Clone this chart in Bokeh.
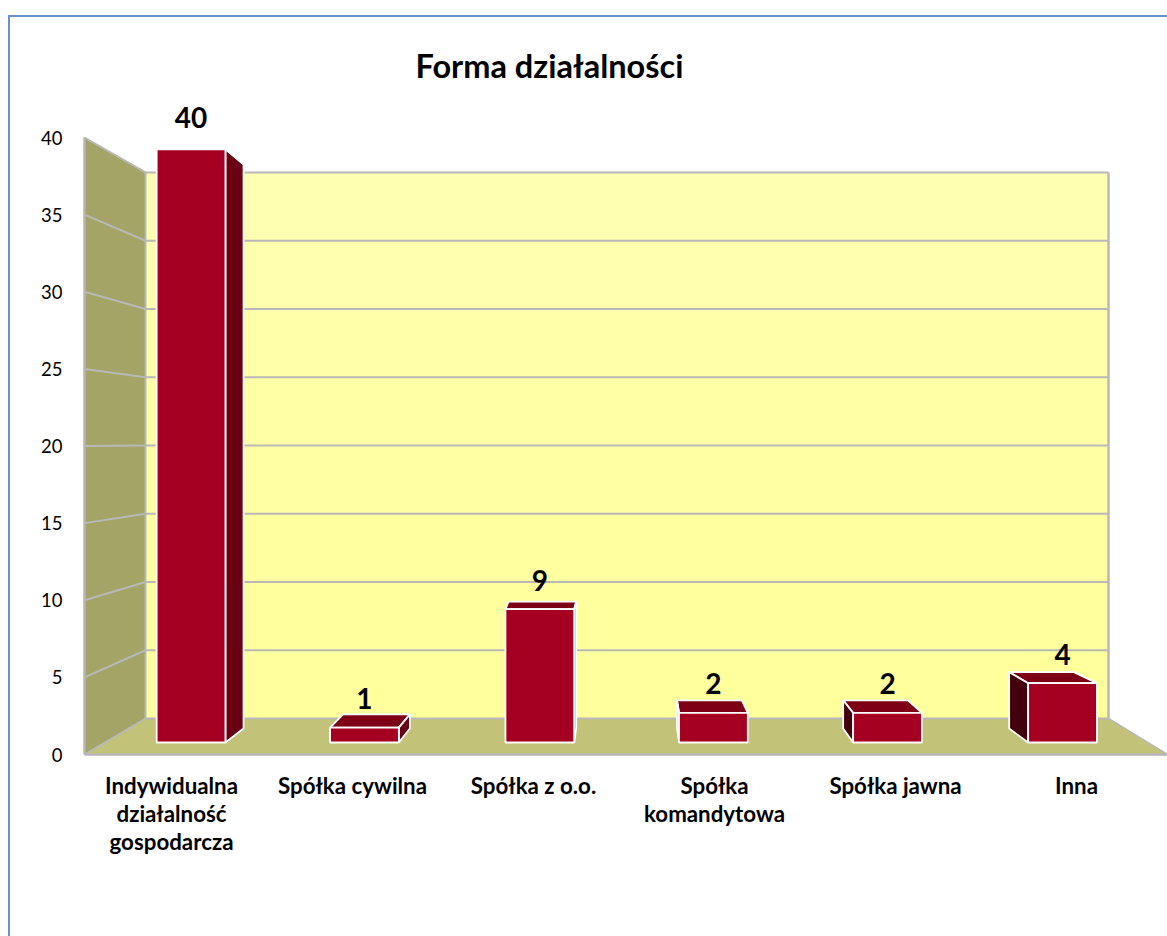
from bokeh.embed import file_html
from bokeh.resources import INLINE
from bokeh.plotting import figure
from bokeh.models import Range1d, FixedTicker, ColumnDataSource
from bokeh.core.properties import value

# ---- data ----
categories = ["Indywidualna\ndziałalność\ngospodarcza", "Spółka cywilna", "Spółka z o.o.",
              "Spółka\nkomandytowa", "Spółka jawna", "Inna"]
values = [40, 1, 9, 2, 2, 4]
y_ticks = [0, 5, 10, 15, 20, 25, 30, 35, 40]
title_text = "Forma działalności"

# ---- perspective geometry (units: category index / axis value) ----
FONT = "Lato"
front_off = [0.108, 0.066, 0.035, -0.006, -0.044, -0.077]
half_w = 0.190
back_left = [0.100, 0.072, 0.017, -0.011, -0.055, -0.105]
back_right = [0.100, 0.061, 0.011, -0.033, -0.077, -0.127]


def fr(v):   # bars' front plane, in axis units
    return 0.778 + 0.9614 * v


def bk(v):   # bars' back plane
    return 1.686 + 0.914 * v


def wl(v):   # back wall
    return 2.334 + 0.885 * v


X_LO, X_HI = -0.4807, 5.5028
WALL_X, WALL_R = -0.1436, 5.1768

BLUE = "#6693CE"
p = figure(width=1167, height=936, output_backend="svg", toolbar_location=None,
           x_range=Range1d(X_LO, X_HI), y_range=Range1d(0, 42.53),
           min_border_left=84, min_border_right=0, min_border_top=98, min_border_bottom=182,
           background_fill_color=None, border_fill_color=None)
p.styles = {
    "background-color": "white",
    "background-image": f"linear-gradient({BLUE},{BLUE}), linear-gradient({BLUE},{BLUE})",
    "background-size": "2px 921px, 1159px 2px",
    "background-position": "8px 15px, 8px 15px",
    "background-repeat": "no-repeat",
}
p.outline_line_color = None
p.grid.visible = False

# Title
p.title.text = title_text
p.title.text_font = FONT
p.title.text_font_size = "32.5px"
p.title.text_font_style = "bold"
p.title.text_color = "black"
p.title.align = "left"
p.title.offset = 331
p.title.standoff = 27

# Axes
ya = p.yaxis[0]
ya.ticker = FixedTicker(ticks=y_ticks)
ya.bounds = (0, 40)
ya.axis_line_color = "#B5B5B5"
ya.axis_line_width = 2.5
ya.major_tick_line_color = None
ya.minor_tick_line_color = None
ya.major_label_text_font = FONT
ya.major_label_text_font_size = "18.5px"
ya.major_label_text_color = "black"
ya.major_label_standoff = 16

xa = p.xaxis[0]
xa.ticker = FixedTicker(ticks=list(range(len(categories))))
xa.major_label_overrides = {i: c for i, c in enumerate(categories)}
xa.axis_line_color = "#B5B5B5"
xa.axis_line_width = 2.5
xa.major_tick_line_color = None
xa.minor_tick_line_color = None
xa.major_label_text_font = FONT
xa.major_label_text_font_style = "bold"
xa.major_label_text_font_size = "22.3px"
xa.major_label_text_line_height = 1.05
xa.major_label_text_color = "black"
xa.major_label_standoff = 11
xa.major_label_orientation = "horizontal"

# Back wall bands
band_cols = ["#FFFF9C", "#FFFF9E", "#FFFFA0", "#FFFFA3", "#FFFFA6", "#FFFFA9", "#FFFFAD", "#FFFFB2"]
for i, c in enumerate(band_cols):
    p.quad(left=WALL_X, right=WALL_R, bottom=wl(y_ticks[i]), top=wl(y_ticks[i + 1]),
           fill_color=c, line_color=None)

# Left wall and floor
p.patch([X_LO, WALL_X, WALL_X, X_LO], [40, wl(40), wl(0), 0], fill_color="#A4A466", line_color=None)
p.patch([X_LO, WALL_X, WALL_R, X_HI], [0, wl(0), wl(0), 0], fill_color="#C2C278", line_color=None)

# Grid lines on the back and left walls
GRID = "#B8B8B8"
p.multi_line([[WALL_X, WALL_R] for _ in y_ticks], [[wl(t), wl(t)] for t in y_ticks],
             line_color=GRID, line_width=2)
p.multi_line([[X_LO, WALL_X] for _ in y_ticks], [[t, wl(t)] for t in y_ticks],
             line_color=GRID, line_width=2)
p.line([WALL_X, WALL_X], [wl(0), wl(40)], line_color=GRID, line_width=2)
p.line([WALL_R, WALL_R], [wl(0), wl(40)], line_color=GRID, line_width=2.5)
p.line([WALL_R, X_HI], [wl(0), 0], line_color=GRID, line_width=1.5)

# Bars
FRONT, TOP, RIGHT, LEFT = "#A50021", "#7E0016", "#690014", "#43000D"
EDGE = "#FFFFFF"
W = 1.8
for i, v in enumerate(values):
    c = i + front_off[i]
    l, r = c - half_w, c + half_w
    bl, br = l + back_left[i], r + back_right[i]
    if v <= 20:  # the top of the tall bar lies above the eye: its top face is hidden
        p.patch([l, bl, br, r], [fr(v), bk(v), bk(v), fr(v)], fill_color=TOP, line_color=EDGE, line_width=W)
    if br > r:
        p.patch([r, br, br, r], [fr(0), bk(0), bk(v), fr(v)], fill_color=RIGHT, line_color=EDGE, line_width=W)
    if bl < l:
        p.patch([l, bl, bl, l], [fr(0), bk(0), bk(v), fr(v)], fill_color=LEFT, line_color=EDGE, line_width=W)
    p.quad(left=l, right=r, bottom=fr(0), top=fr(v), fill_color=FRONT, line_color=EDGE, line_width=W)

# Data labels
src = ColumnDataSource(dict(
    x=[i + front_off[i] for i in range(len(values))],
    y=[fr(v) for v in values],
    t=[str(v) for v in values],
    o=[-32 if v > 20 else -29 for v in values],
))
p.text("x", "y", text="t", source=src, y_offset="o", text_font=value(FONT), text_font_style="bold",
       text_font_size="28px", text_align="center", text_baseline="middle", text_color="black")

open("out.html", "w").write(file_html(p, INLINE))
